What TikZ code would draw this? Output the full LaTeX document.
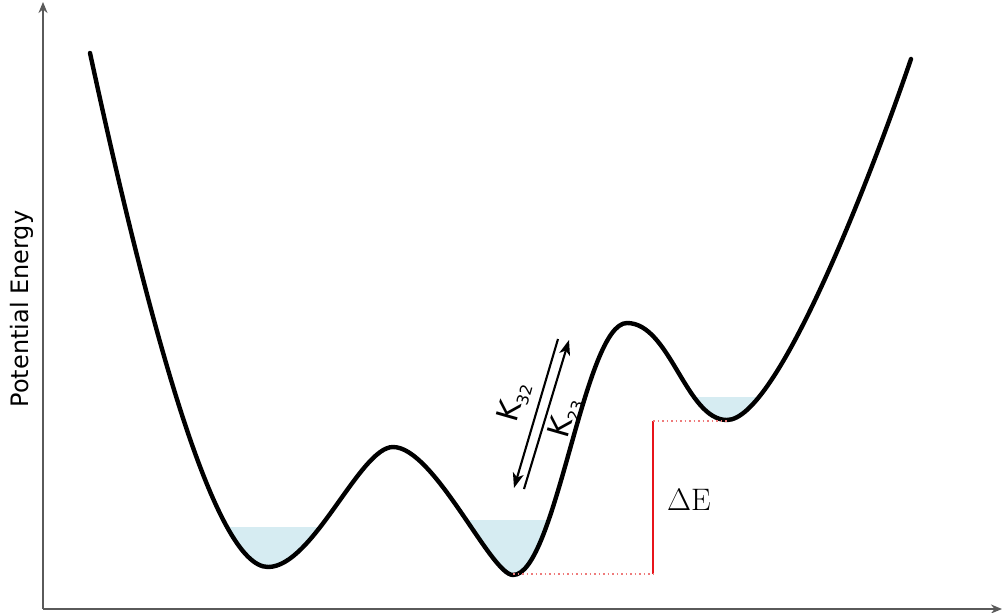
\documentclass[tikz,border=0pt]{standalone}
\usepackage{fontspec}
\newfontfamily\pesfont{DejaVu Sans}
\usetikzlibrary{arrows.meta}
\definecolor{pesGray}{HTML}{5A5A5A}
\definecolor{pesWater}{HTML}{D6ECF2}
\definecolor{pesRed}{HTML}{E8141B}
\definecolor{pesPink}{HTML}{EE7B7B}
\newcommand\pesrate[1]{K\raisebox{-6pt}{\fontsize{16}{18}\selectfont #1}}
\tikzset{
  pes axis/.style={draw=pesGray, line width=1.8pt, -{Stealth[length=11pt,width=9pt]}},
  pes curve/.style={draw=black, line width=4.4pt, line cap=round, line join=round},
  pes water/.style={fill=pesWater},
  pes rate/.style={draw=black, line width=2.1pt, -{Stealth[length=15pt,width=11pt,inset=4pt]}},
  pes gap/.style={draw=pesRed, line width=2.2pt},
  pes guide/.style={draw=pesPink, line width=1.3pt, dash pattern=on 1.5pt off 3pt},
  pes label/.style={font=\pesfont\fontsize{24}{28}\selectfont},
  pes rate label/.style={font=\pesfont\fontsize{30}{34}\selectfont, inner sep=0pt, rotate=74},
}

\begin{document}
\begin{tikzpicture}[x=1pt, y=-1pt]
  \useasboundingbox (0,0) rectangle (1002,613);

  % Energy profile with three wells
  \path[save path=\pesline] (90,53)
    .. controls (150,330) and (215,567) .. (268,567)
    .. controls (313,567) and (360,447) .. (393,447)
    .. controls (434,447) and (491,575) .. (513,575)
    .. controls (556,575) and (584,323) .. (627,323)
    .. controls (670,323) and (686,420) .. (727,420)
    .. controls (777,420) and (870,179) .. (911,59);

  % Filled wells
  \begin{scope}
    \clip[use path=\pesline];
    \fill[pes water] (150,527) rectangle (393,600);
    \fill[pes water] (400,520) rectangle (620,600);
    \fill[pes water] (640,397) rectangle (850,440);
  \end{scope}
  \draw[pes curve, use path=\pesline];

  % Axes
  \coordinate (origin) at (43,609);
  \coordinate (ytip) at (43,2);
  \coordinate (xtip) at (1002,609);
  \draw[pes axis] (origin) -- (ytip);
  \draw[pes axis] (origin) -- (xtip);
  \node[pes label, rotate=90] (ylabel) at (22,309) {Potential Energy};

  % Rates between wells 2 and 3
  \coordinate (k32 start) at (558,339);
  \coordinate (k32 end) at (514,488);
  \coordinate (k23 start) at (524,489);
  \coordinate (k23 end) at (569,340);
  \draw[pes rate] (k32 start) -- (k32 end);
  \draw[pes rate] (k23 start) -- (k23 end);
  \node[pes rate label] (k32) at (514,402) {\pesrate{32}};
  \node[pes rate label] (k23) at (565,418) {\pesrate{23}};

  % Energy gap
  \coordinate (gap top) at (653,421);
  \coordinate (gap bottom) at (653,574);
  \coordinate (well3 floor) at (727,421);
  \coordinate (well2 floor) at (513,574);
  \draw[pes gap] (gap top) -- (gap bottom);
  \draw[pes guide] (gap top) -- (well3 floor);
  \draw[pes guide] (well2 floor) -- (gap bottom);
  \node[font=\huge, scale=1.5] (gap label) at (689,500) {$\Delta$E};
\end{tikzpicture}
\end{document}
